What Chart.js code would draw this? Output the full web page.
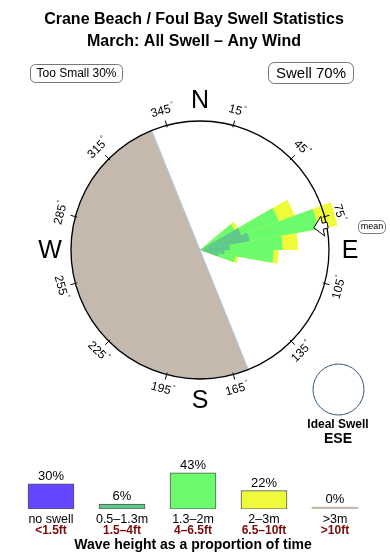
<!DOCTYPE html>
<html>
<head>
<meta charset="utf-8">
<script src="https://cdn.jsdelivr.net/npm/chart.js@4.4.0/dist/chart.umd.min.js"></script>
<style>
  body { margin: 0; background: #fff; }
  #wrap { position: relative; width: 390px; height: 560px; }
  #rose { position: absolute; left: 0; top: 0; }
  #heights { position: absolute; left: 0; top: 450px; }
</style>
</head>
<body>
<div id="wrap">
  <canvas id="rose" width="390" height="450"></canvas>
  <canvas id="heights" width="390" height="110"></canvas>
</div>
<script>
const titleLines = ['Crane Beach / Foul Bay Swell Statistics', 'March: All Swell \u2013 Any Wind'];

// swell rose: direction bins (deg) and radial length per height band (100 = outer ring)
const directions = [55, 65, 75, 85, 95, 105];
const binWidth = 10;
const smallSwell = [0, 34, 39, 23, 19, 15];   // 0.5-1.3m
const mediumSwell = [31, 31, 54, 41, 38, 13]; // 1.3-2m
const largeSwell = [3, 13, 15, 12, 4, 2];     // 2-3m
const landFrom = 158;
const landTo = 338;
const meanDirection = 79;
const idealSwell = 'ESE';
const degreeTicks = [15, 45, 75, 105, 135, 165, 195, 225, 255, 285, 315, 345];
const cardinals = ['N', 'E', 'S', 'W'];

// wave height share
const heightLabels = ['no swell', '0.5\u20131.3m', '1.3\u20132m', '2\u20133m', '>3m'];
const heightFeet = ['<1.5ft', '1.5\u20134ft', '4\u20136.5ft', '6.5\u201310ft', '>10ft'];
const heightShare = [30, 6, 43, 22, 0];

const FONT = 'Liberation Sans, Arial, Helvetica, sans-serif';
Chart.defaults.font.family = FONT;
Chart.defaults.color = '#000';

const colors = {
    none: '#6546ff',
    small: '#5fc98b',
    medium: '#6cfb6c',
    large: '#eefa3a',
    huge: '#c6baad',
    land: '#c5b9ad'
};

// cumulative lengths so each band is drawn from the centre out
const cumulative = (...bands) => directions.map((d, i) => bands.reduce((s, b) => s + b[i], 0));
const start = directions[0] - binWidth / 2;
const petalAngles = [start, ...directions.map(() => binWidth), 360 - start - directions.length * binWidth];
const landAngles = [landFrom, landTo - landFrom, 360 - landTo];
const petal = (values) => [0, ...values, 0];

const polar = (cx, cy, r, deg) => {
    const a = deg * Math.PI / 180;
    return [cx + r * Math.sin(a), cy - r * Math.cos(a)];
};

const roseDecor = {
    id: 'roseDecor',
    afterDraw(chart) {
        const ctx = chart.ctx;
        const s = chart.scales.r;
        const cx = s.xCenter, cy = s.yCenter, R = s.drawingArea;
        ctx.save();
        ctx.fillStyle = '#000';
        ctx.strokeStyle = '#000';

        // titles
        ctx.font = 'bold 16px ' + FONT;
        ctx.textAlign = 'center';
        ctx.textBaseline = 'middle';
        titleLines.forEach((t, i) => ctx.fillText(t, 194, 20 + i * 22));

        // too small / swell boxes
        ctx.lineWidth = 0.8;
        ctx.strokeStyle = '#555';
        ctx.beginPath();
        ctx.roundRect(30.5, 64.5, 92, 18, 5);
        ctx.stroke();
        ctx.font = '12px ' + FONT;
        ctx.fillText('Too Small ' + heightShare[0] + '%', 76.5, 74);
        ctx.beginPath();
        ctx.roundRect(268.5, 62.5, 85, 21, 6);
        ctx.stroke();
        ctx.font = '15px ' + FONT;
        ctx.fillText('Swell ' + (100 - heightShare[0]) + '%', 311, 73.5);

        // tick marks and degree labels
        ctx.strokeStyle = '#000';
        ctx.lineWidth = 1;
        degreeTicks.forEach(d => {
            const [x1, y1] = polar(cx, cy, R - 2, d);
            const [x2, y2] = polar(cx, cy, R + 5, d);
            ctx.beginPath();
            ctx.moveTo(x1, y1);
            ctx.lineTo(x2, y2);
            ctx.stroke();
            const [x, y] = polar(cx, cy, R + 15, d);
            const rot = (d > 90 && d < 270 ? d - 180 : d) * Math.PI / 180;
            ctx.save();
            ctx.translate(x, y);
            ctx.rotate(rot);
            ctx.font = '12px ' + FONT;
            const w = ctx.measureText(String(d)).width;
            ctx.textAlign = 'center';
            ctx.fillText(String(d), -2, 0);
            ctx.font = '7px ' + FONT;
            ctx.textAlign = 'left';
            ctx.fillText('\u00b0', w / 2 - 1, -4);
            ctx.restore();
        });

        // compass letters
        ctx.font = '25px ' + FONT;
        ctx.textAlign = 'center';
        cardinals.forEach((c, i) => {
            const [x, y] = polar(cx, cy, R + 21, i * 90);
            ctx.fillText(c, x, y + 1);
        });

        // mean direction arrow, pointing at the centre
        const pts = [[R - 13, 0], [R - 4, -10], [R - 4, -3], [R + 1, -3], [R + 1, 3], [R - 4, 3], [R - 4, 10]];
        const a = meanDirection * Math.PI / 180;
        ctx.beginPath();
        pts.forEach(([r, off], i) => {
            const x = cx + r * Math.sin(a) + off * Math.cos(a);
            const y = cy - r * Math.cos(a) + off * Math.sin(a);
            if (i === 0) ctx.moveTo(x, y); else ctx.lineTo(x, y);
        });
        ctx.closePath();
        ctx.fillStyle = '#fff';
        ctx.fill();
        ctx.lineWidth = 1;
        ctx.stroke();
        ctx.fillStyle = '#000';

        ctx.strokeStyle = '#555';
        ctx.lineWidth = 0.8;
        ctx.beginPath();
        ctx.roundRect(cx + R + 29.5, cy - 29.5, 27, 13, 5);
        ctx.stroke();
        ctx.font = '9px ' + FONT;
        ctx.fillText('mean', cx + R + 43, cy - 23);

        // ideal swell marker
        ctx.strokeStyle = '#34587a';
        ctx.lineWidth = 1;
        ctx.beginPath();
        ctx.arc(cx + 138.5, cy + 139.5, 25.5, 0, Math.PI * 2);
        ctx.stroke();
        ctx.font = 'bold 12px ' + FONT;
        ctx.fillText('Ideal Swell', cx + 138, cy + 175);
        ctx.font = 'bold 14px ' + FONT;
        ctx.fillText(idealSwell, cx + 138, cy + 189);
        ctx.restore();
    }
};

new Chart(document.getElementById('rose'), {
    type: 'polarArea',
    data: {
        datasets: [
            {
                data: petal(smallSwell),
                backgroundColor: colors.small,
                angle: ctx => petalAngles[ctx.dataIndex]
            },
            {
                data: petal(cumulative(smallSwell, mediumSwell)),
                backgroundColor: colors.medium,
                angle: ctx => petalAngles[ctx.dataIndex]
            },
            {
                data: petal(cumulative(smallSwell, mediumSwell, largeSwell)),
                backgroundColor: colors.large,
                angle: ctx => petalAngles[ctx.dataIndex]
            },
            {
                data: [0, 100, 0],
                backgroundColor: colors.land,
                borderColor: '#a9cbe8',
                borderWidth: 1,
                angle: ctx => landAngles[ctx.dataIndex]
            }
        ]
    },
    options: {
        responsive: false,
        animation: false,
        elements: { arc: { borderWidth: 0 } },
        datasets: { polarArea: { clip: false } },
        layout: { padding: { top: 121, left: 71, right: 61, bottom: 71 } },
        plugins: { legend: { display: false }, tooltip: { enabled: false } },
        scales: {
            r: {
                min: 0,
                max: 100,
                ticks: { display: false, stepSize: 100 },
                grid: { color: '#000', lineWidth: 1.3, z: 1 },
                angleLines: { display: false },
                pointLabels: { display: false }
            }
        }
    },
    plugins: [roseDecor]
});

const shareLabels = {
    id: 'shareLabels',
    afterDatasetsDraw(chart) {
        const ctx = chart.ctx;
        ctx.save();
        ctx.font = '13px ' + FONT;
        ctx.fillStyle = '#000';
        ctx.textAlign = 'center';
        ctx.textBaseline = 'alphabetic';
        chart.getDatasetMeta(0).data.forEach((bar, i) => {
            ctx.fillText(heightShare[i] + '%', bar.x, bar.y - 4);
        });
        ctx.restore();
    }
};

// the feet row is mirrored (unclipped) so it can sit snug under the metre row
new Chart(document.getElementById('heights'), {
    type: 'bar',
    data: {
        labels: heightLabels,
        datasets: [{
            data: heightShare,
            backgroundColor: [colors.none, colors.small, colors.medium, colors.large, colors.huge],
            borderColor: '#555',
            borderWidth: [1, 1, 1, 1, 0],
            borderSkipped: false,
            barThickness: 46,
            minBarLength: 2
        }]
    },
    options: {
        responsive: false,
        animation: false,
        layout: { padding: { left: 15.5, right: 19.5, top: 17, bottom: 6 } },
        plugins: { legend: { display: false }, tooltip: { enabled: false } },
        scales: {
            y: { display: false, min: 0, max: 50 },
            x: {
                grid: { display: false, drawTicks: false },
                border: { display: false },
                ticks: { color: '#000', font: { size: 12.5, lineHeight: 1 }, padding: 4.25 }
            },
            x2: {
                type: 'category',
                labels: heightFeet,
                position: 'bottom',
                offset: true,
                grid: { display: false, drawTicks: false },
                border: { display: false },
                ticks: { color: '#7a0b0b', font: { size: 12, weight: 'bold', lineHeight: 1 }, mirror: true, padding: -6.5 },
                title: {
                    display: true,
                    text: 'Wave height as a proportion of time',
                    color: '#000',
                    font: { size: 14, weight: 'bold' },
                    padding: { top: 20.1, bottom: 0 }
                }
            }
        }
    },
    plugins: [shareLabels]
});
</script>
</body>
</html>
